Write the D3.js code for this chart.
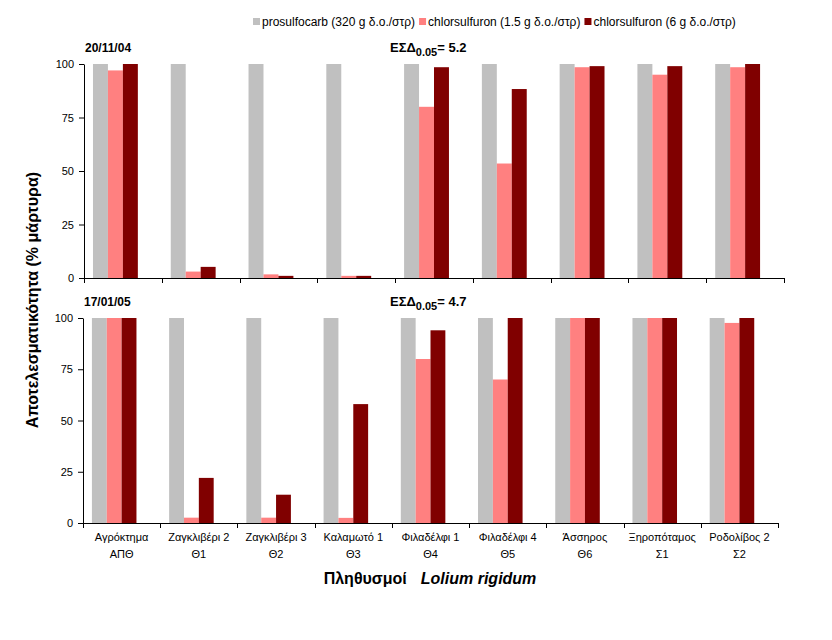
<!DOCTYPE html>
<html><head><meta charset="utf-8">
<script src="https://cdn.jsdelivr.net/npm/d3@7/dist/d3.min.js"></script>
<style>
body{margin:0;background:#fff;}
svg{display:block;font-family:Arial,"Liberation Sans",sans-serif;}
</style></head>
<body><svg id="c" width="832" height="640"></svg>
<script>
const categories = ["Αγρόκτημα","Ζαγκλιβέρι 2","Ζαγκλιβέρι 3","Καλαμωτό 1","Φιλαδέλφι 1","Φιλαδέλφι 4","Άσσηρος","Ξηροπόταμος","Ροδολίβος 2"];
const codes = ["ΑΠΘ","Θ1","Θ2","Θ3","Θ4","Θ5","Θ6","Σ1","Σ2"];
const seriesNames = ["prosulfocarb (320 g δ.ο./στρ)","chlorsulfuron (1.5 g δ.ο./στρ)","chlorsulfuron (6 g δ.ο./στρ)"];
const seriesColors = ["#C0C0C0","#FF8080","#800000"];
// Panel 1: 20/11/04
const prosulfocarb1 = [100,100,100,100,100,100,100,100,100];
const chlor15_1 = [97,3,1.7,1,80,53.5,98.5,95,98.5];
const chlor6_1 = [100,5.2,1,1,98.5,88.3,99,99,100];
// Panel 2: 17/01/05
const prosulfocarb2 = [100,100,100,100,100,100,100,100,100];
const chlor15_2 = [100,2.6,2.6,2.5,80,70,100,100,97.6];
const chlor6_2 = [100,22,13.8,58,94,100,100,100,100];
const yTicks = [0,25,50,75,100];
const panelDates = ["20/11/04","17/01/05"];
const lsdValues = ["5.2","4.7"];

const svg = d3.select("#c");

const panels = [
  {series:[prosulfocarb1,chlor15_1,chlor6_1], x0:84, x1:784, yTop:64, yBot:278, date:panelDates[0], lsd:lsdValues[0], labels:false},
  {series:[prosulfocarb2,chlor15_2,chlor6_2], x0:83, x1:778, yTop:318, yBot:523, date:panelDates[1], lsd:lsdValues[1], labels:true}
];

panels.forEach(p => {
  const x = d3.scaleBand().domain(categories).range([p.x0,p.x1]).padding(0);
  // 4 slots per group (last one empty), as in the original layout
  const slots = seriesNames.concat([""]);
  const xs = d3.scaleBand().domain(slots).range([0,x.bandwidth()]).paddingInner(0).paddingOuter(0.6);
  const y = d3.scaleLinear().domain([0,100]).range([p.yBot,p.yTop]);
  const g = svg.append("g");
  p.series.forEach((vals,si) => {
    g.selectAll(null).data(vals).enter().append("rect")
      .attr("x",(d,i)=>x(categories[i])+xs(seriesNames[si]))
      .attr("width",xs.bandwidth())
      .attr("y",d=>y(d))
      .attr("height",d=>y(0)-y(d))
      .attr("fill",seriesColors[si]);
  });
  // y axis
  const ya = d3.axisLeft(y).tickValues(yTicks).tickSize(5).tickSizeOuter(0).tickPadding(5);
  const yg = g.append("g").attr("transform",`translate(${p.x0},0)`).call(ya);
  yg.select(".domain").attr("stroke","#000");
  yg.selectAll(".tick line").attr("stroke","#000");
  yg.selectAll("text").attr("font-size",11).attr("fill","#000").attr("font-family","Arial, 'Liberation Sans', sans-serif");
  // x axis line + ticks at band boundaries
  g.append("line").attr("x1",p.x0).attr("x2",p.x1).attr("y1",p.yBot+0.5).attr("y2",p.yBot+0.5).attr("stroke","#000");
  const bounds = categories.map(c=>x(c)).concat([p.x1]);
  g.selectAll(null).data(bounds).enter().append("line")
    .attr("x1",d=>Math.round(d)+0.5).attr("x2",d=>Math.round(d)+0.5)
    .attr("y1",p.yBot).attr("y2",p.yBot+5).attr("stroke","#000");
  if (p.labels) {
    categories.forEach((c,i)=>{
      const cx = x(c)+x.bandwidth()/2;
      g.append("text").attr("x",cx).attr("y",p.yBot+18).attr("text-anchor","middle").attr("font-size",11).text(c);
      g.append("text").attr("x",cx).attr("y",p.yBot+35).attr("text-anchor","middle").attr("font-size",11).text(codes[i]);
    });
  }
  // date label
  g.append("text").attr("x",p.x0+1).attr("y",p.yTop-12).attr("font-size",12).attr("font-weight","bold").attr("font-family","'Liberation Sans Narrow', Arial, sans-serif").text(p.date);
  // LSD label
  const t = g.append("text").attr("x",390).attr("y",p.yTop-12).attr("font-size",13).attr("font-weight","bold");
  t.append("tspan").text("ΕΣΔ");
  t.append("tspan").attr("font-size",11).attr("dy",4).text("0.05");
  t.append("tspan").attr("dy",-4).attr("font-size",13).text("= "+p.lsd);
});

// legend
const legend = svg.append("g").attr("font-size",12);
let lx = 253;
seriesNames.forEach((s,i)=>{
  legend.append("rect").attr("x",lx).attr("y",18).attr("width",7).attr("height",7).attr("fill",seriesColors[i]);
  const tx = legend.append("text").attr("x",lx+9).attr("y",26).text(s);
  lx += 9 + tx.node().getComputedTextLength() + 4;
});

// y title
svg.append("text").attr("transform","translate(38,300) rotate(-90)").attr("text-anchor","middle")
  .attr("font-size",16).attr("font-weight","bold").text("Αποτελεσματικότητα (% μάρτυρα)");

// x title
const xt = svg.append("text").attr("x",430).attr("y",584).attr("text-anchor","middle").attr("font-size",16).attr("font-weight","bold");
xt.append("tspan").text("Πληθυσμοί");
xt.append("tspan").attr("dx",14).attr("font-style","italic").text("Lolium rigidum");
</script>
</body></html>
